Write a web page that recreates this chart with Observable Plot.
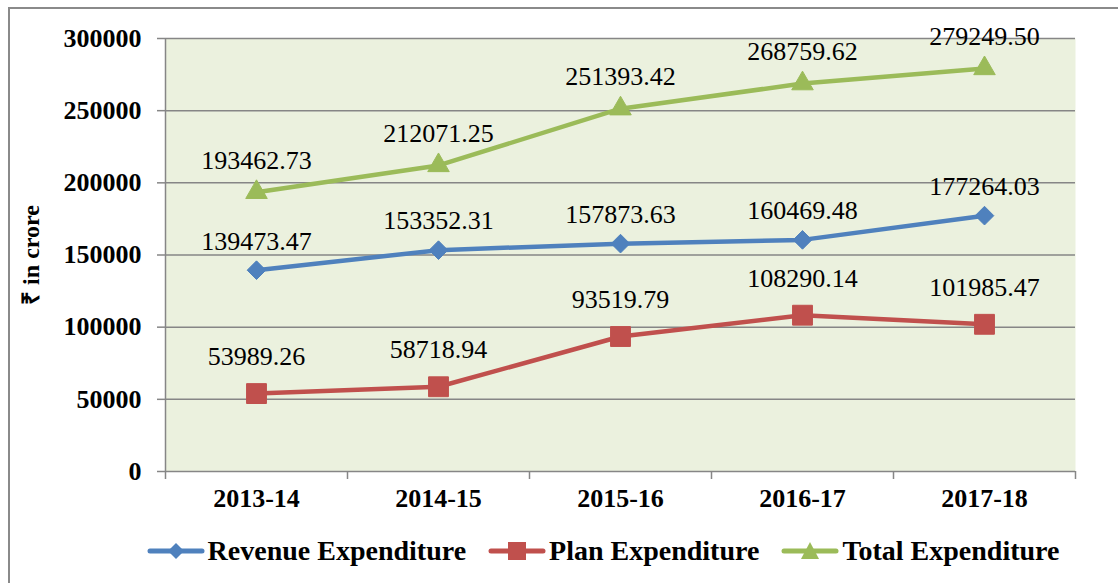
<!DOCTYPE html>
<html>
<head>
<meta charset="utf-8">
<script src="https://cdn.jsdelivr.net/npm/d3@7"></script>
<script src="https://cdn.jsdelivr.net/npm/@observablehq/plot@0.6"></script>
<style>
  html, body { margin: 0; padding: 0; background: #fff; }
  #wrap { position: relative; width: 1118px; height: 583px; overflow: hidden; font-family: "Liberation Serif", "Times New Roman", serif; }
  #border { position: absolute; left: 8px; top: 7px; width: 1130px; height: 600px; border: 2px solid #8a8a8a; box-sizing: border-box; }
  #chart { position: absolute; left: 0; top: 0; }
  #chart svg, #chart svg text { font-family: "Liberation Serif", "Times New Roman", serif; }
  #legend { position: absolute; left: 44px; top: 535px; width: 1118px; display: flex; justify-content: center; align-items: center; font-weight: bold; font-size: 28px; color: #000; }
  .item { display: flex; align-items: center; margin: 0 11px; }
  .item svg { margin-right: 3px; }
</style>
</head>
<body>
<div id="wrap">
  <div id="border"></div>
  <div id="chart"></div>
  <div id="legend"></div>
</div>
<script>
const years = ["2013-14", "2014-15", "2015-16", "2016-17", "2017-18"];
const revenue = [139473.47, 153352.31, 157873.63, 160469.48, 177264.03];
const plan = [53989.26, 58718.94, 93519.79, 108290.14, 101985.47];
const total = [193462.73, 212071.25, 251393.42, 268759.62, 279249.50];
const yTicks = [0, 50000, 100000, 150000, 200000, 250000, 300000];
const seriesNames = ["Revenue Expenditure", "Plan Expenditure", "Total Expenditure"];
const seriesColors = ["#4F81BD", "#C0504D", "#9BBB59"];

const font = "Liberation Serif";
const toRows = (vals) => vals.map((v, i) => ({i, v}));
const rev = toRows(revenue), pln = toRows(plan), tot = toRows(total);
const bounds = years.map((_, i) => i - 0.5).concat([years.length - 0.5]);
const centers = years.map((_, i) => i);

const lineMarks = (rows, color, symbol, r, dy) => [
  Plot.line(rows, {x: "i", y: "v", stroke: color, strokeWidth: 4.5}),
  Plot.dot(rows, {x: "i", y: "v", symbol, r, fill: color, stroke: color, strokeWidth: 1}),
  Plot.text(rows, {x: "i", y: "v", text: d => d.v.toFixed(2), dy, fontSize: 26, fontFamily: font, fill: "#000"})
];

const chart = Plot.plot({
  width: 1118,
  height: 520,
  marginTop: 38,
  marginLeft: 165,
  marginRight: 43,
  marginBottom: 49,
  style: {background: "transparent", overflow: "visible", fontFamily: font},
  x: {type: "linear", domain: [-0.5, years.length - 0.5]},
  y: {domain: [0, 300000]},
  marks: [
    Plot.frame({fill: "#EBF1DE", stroke: "none"}),
    Plot.gridY(yTicks, {stroke: "#868686", strokeOpacity: 1, strokeWidth: 1.5}),
    Plot.ruleX([-0.5], {stroke: "#868686", strokeWidth: 1.5}),
    Plot.axisY(yTicks, {tickSize: 8, tickPadding: 16, tickFormat: d => String(d), fontSize: 26, fontWeight: "bold", fontFamily: font, stroke: "#868686", strokeWidth: 1.5, color: "#000", label: null}),
    Plot.axisY([], {label: "₹ in crore", labelAnchor: "center", labelArrow: "none", labelOffset: 144, fontSize: 24, fontWeight: "bold", fontFamily: font, color: "#000"}),
    Plot.axisX(bounds, {tickSize: 8, tickFormat: () => "", stroke: "#868686", strokeWidth: 1.5, label: null}),
    Plot.axisX(centers, {tickSize: 0, tickPadding: 17, tickFormat: i => years[i], fontSize: 26, fontWeight: "bold", fontFamily: font, color: "#000", label: null}),
    ...lineMarks(pln, seriesColors[1], "square", 11.2, -37),
    ...lineMarks(rev, seriesColors[0], "diamond2", 8.4, -29),
    ...lineMarks(tot, seriesColors[2], "triangle", 8, -32)
  ]
});
document.getElementById("chart").appendChild(chart);

// Legend
const symbolsSvg = [
  '<path d="M29 2 L37 10 L29 18 L21 10 Z" fill="#4F81BD"/>',
  '<rect x="20" y="1" width="18" height="18" fill="#C0504D"/>',
  '<path d="M29 1 L38 18 L20 18 Z" fill="#9BBB59"/>'
];
const legend = document.getElementById("legend");
seriesNames.forEach((name, k) => {
  const item = document.createElement("div");
  item.className = "item";
  item.innerHTML = `<svg width="58" height="20"><line x1="3" y1="10" x2="55" y2="10" stroke="${seriesColors[k]}" stroke-width="5" stroke-linecap="round"/>${symbolsSvg[k]}</svg><span>${name}</span>`;
  legend.appendChild(item);
});
</script>
</body>
</html>
